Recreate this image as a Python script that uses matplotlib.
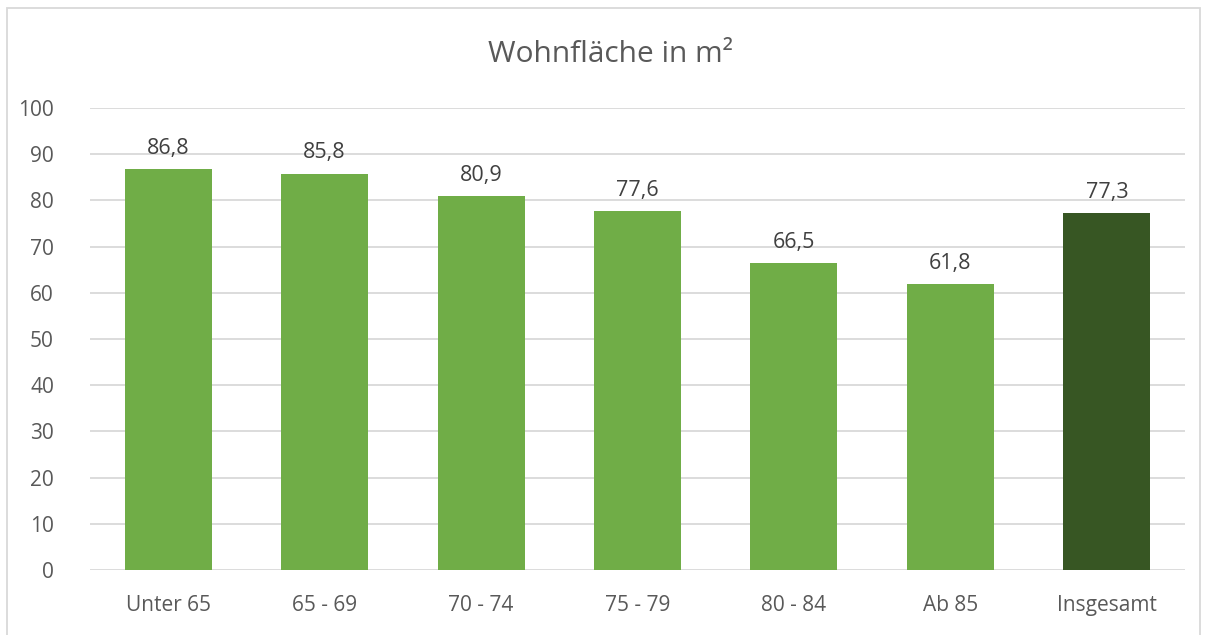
import matplotlib.pyplot as plt
from matplotlib.patches import Rectangle

# Daten
kategorien = ['Unter 65', '65 - 69', '70 - 74', '75 - 79', '80 - 84', 'Ab 85', 'Insgesamt']
werte = [86.8, 85.8, 80.9, 77.6, 66.5, 61.8, 77.3]
farben = ['#70AD47'] * 6 + ['#375623']
beschriftungen = ['86,8', '85,8', '80,9', '77,6', '66,5', '61,8', '77,3']
y_ticks = [0, 10, 20, 30, 40, 50, 60, 70, 80, 90, 100]

plt.rcParams['font.family'] = ['Open Sans', 'DejaVu Sans']
textfarbe = '#595959'

fig = plt.figure(figsize=(12.08, 6.35), dpi=100)
ax = fig.add_axes([0.0745, 0.1024, 0.9065, 0.7276])

x = range(len(kategorien))
balken = ax.bar(x, werte, width=0.556, color=farben, zorder=3)

for xi, w, txt in zip(x, werte, beschriftungen):
    ax.text(xi, w + 2.2, txt, ha='center', va='bottom', fontsize=15.5, color='#404040')

ax.set_xlim(-0.5, len(kategorien) - 0.5)
ax.set_ylim(0, 100)
ax.set_yticks(y_ticks)
ax.set_xticks(list(x))
ax.set_xticklabels(kategorien)
ax.tick_params(axis='both', length=0, labelsize=15, labelcolor=textfarbe)
ax.tick_params(axis='y', pad=26)
ax.tick_params(axis='x', pad=18)
ax.grid(axis='y', color='#D9D9D9', linewidth=1.3, zorder=0)
for s in ax.spines.values():
    s.set_visible(False)

fig.text(0.505, 0.914, 'Wohnfläche in m²', ha='center', va='center', fontsize=21.5, color=textfarbe)

# Rahmen um das Diagramm
fig.patches.append(Rectangle((7 / 1208, -0.01), 1193 / 1208, 1 - 8 / 635 + 0.01,
                             transform=fig.transFigure, fill=False,
                             edgecolor='#D9D9D9', linewidth=1.3))

fig.savefig('out.png', dpi=100)
